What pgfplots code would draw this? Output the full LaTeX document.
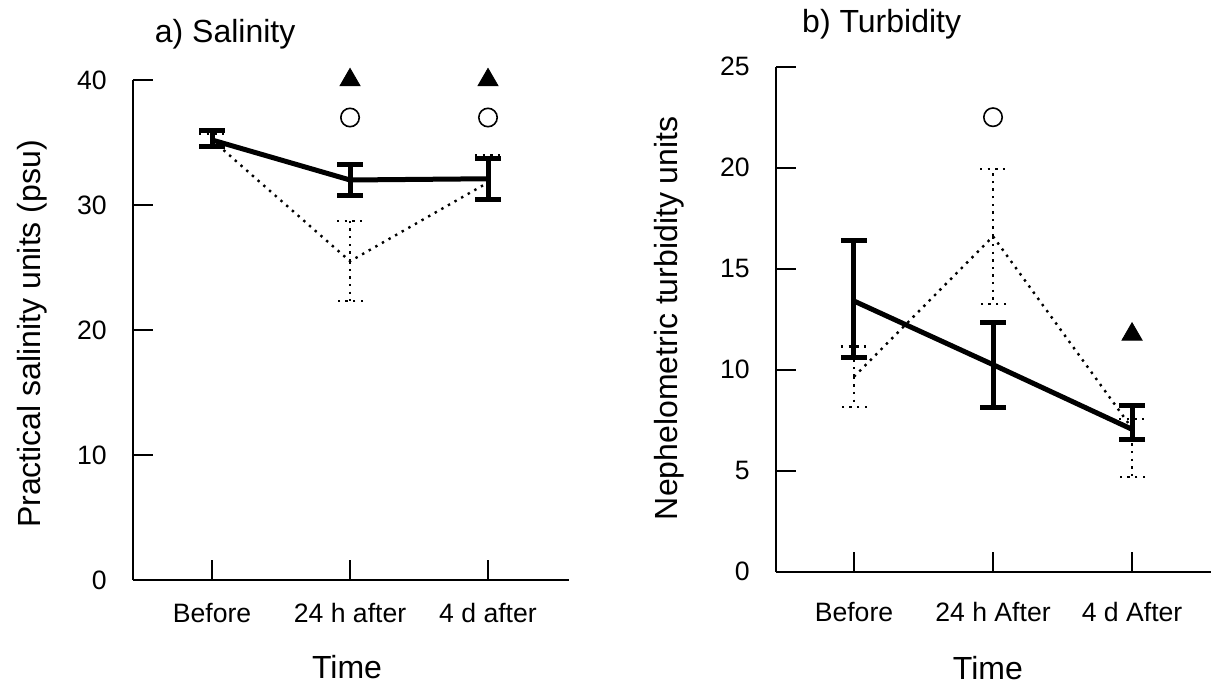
\documentclass[border=0pt]{standalone}
\usepackage{pgfplots}
\pgfplotsset{compat=1.18}
\usepackage{fontspec}
\setmainfont{Liberation Sans}

\pgfplotsset{
  panel/.style={
    scale only axis,
    anchor=south west,
    axis x line=bottom, axis y line=left,
    axis line style={-, line width=1pt},
    tick align=inside,
    major tick length=10pt,
    tick style={line width=1pt, black},
    xtick={1,2,3},
    ticklabel style={font=\fontsize{13.3}{13.3}\selectfont},
    /pgf/number format/assume math mode=true,
    yticklabel style={anchor=east, inner xsep=0pt, xshift=-13pt},
    label style={font=\fontsize{16}{16}\selectfont},
    title style={font=\fontsize{16}{16}\selectfont, anchor=base west, yshift=-6pt},
    clip=false,
  },
  solidser/.style={black, line width=2.5pt, mark=none,
    error bars/y dir=both, error bars/y explicit,
    error bars/error mark=|,
    error bars/error bar style={line width=2.5pt, solid},
    error bars/error mark options={line width=2.5pt, mark size=6.5pt, solid}},
  dotser/.style={black, line width=1.2pt, dash pattern=on 1.2pt off 2.6pt, mark=none,
    error bars/y dir=both, error bars/y explicit,
    error bars/error mark=|,
    error bars/error bar style={line width=1.2pt, dash pattern=on 1.2pt off 2.6pt},
    error bars/error mark options={line width=1.2pt, mark size=6.5pt, dash pattern=on 1.2pt off 2.6pt}},
  tri/.style={only marks, mark=triangle*, mark size=5.8pt, black, mark options={fill=black, solid}},
  circ/.style={only marks, mark=o, mark size=4.6pt, black, mark options={line width=0.8pt, solid}},
}

\begin{document}
\begin{tikzpicture}
\path[use as bounding box] (0,0) rectangle (605.5pt,343.5pt);

% a) salinity
\begin{axis}[panel,
    at={(66.5pt,53.5pt)}, width=218pt, height=250pt,
    xmin=0.427, xmax=3.587, ymin=0, ymax=40,
    ytick={0,10,20,30,40},
    xticklabels={Before,24 h after,4 d after},
    xticklabel style={anchor=base, yshift=-21pt},
    title={a) Salinity},
    title style={at={(axis description cs:0.034,1.074)}},
    xlabel={Time},
    xlabel style={at={(axis description cs:0.491,-0.196)}, anchor=base},
    ylabel={Practical salinity units (psu)},
    ylabel style={at={(axis description cs:-0.213,0.492)}, anchor=base},
]
\addplot[dotser] coordinates {(1,35.2) +- (0,0.5) (2,25.5) +- (0,3.2) (3,31.8) += (0,2.2) -= (0,1.4)};
\addplot[solidser] coordinates {(1,35.2) += (0,0.75) -= (0,0.5) (2,32.0) +- (0,1.25) (3,32.1) +- (0,1.65)};
\addplot[circ] coordinates {(2,37) (3,37)};
\addplot[tri] coordinates {(2,40) (3,40)};
\end{axis}

% b) turbidity
\begin{axis}[panel,
    at={(388pt,57.65pt)}, width=217.5pt, height=252.5pt,
    xmin=0.439, xmax=3.568, ymin=0, ymax=25,
    ytick={0,5,10,15,20,25},
    xticklabels={Before,24 h After,4 d After},
    xticklabel style={anchor=base, yshift=-25pt},
    title={b) Turbidity},
    title style={at={(axis description cs:0.044,1.067)}},
    xlabel={Time},
    xlabel style={at={(axis description cs:0.487,-0.2125)}, anchor=base},
    ylabel={Nephelometric turbidity units},
    ylabel style={at={(axis description cs:-0.226,0.502)}, anchor=base},
]
\addplot[dotser] coordinates {(1,9.65) +- (0,1.5) (2,16.6) +- (0,3.35) (3,7.1) += (0,0.45) -= (0,2.4)};
\addplot[solidser] coordinates {(1,13.4) += (0,3.0) -= (0,2.8) (2,10.25) +- (0,2.1) (3,7.05) += (0,1.2) -= (0,0.5)};
\addplot[circ] coordinates {(2,22.5)};
\addplot[tri] coordinates {(3,11.75)};
\end{axis}
\end{tikzpicture}
\end{document}
